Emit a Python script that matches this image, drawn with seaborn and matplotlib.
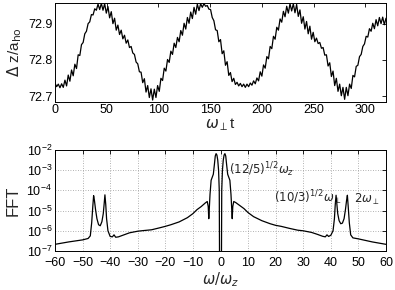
import numpy as np
import pandas as pd
import matplotlib
matplotlib.use("Agg")
import matplotlib.pyplot as plt
import seaborn as sns

# ---------------- data ----------------
# top panel: Delta z / a_ho vs omega_perp t (read from picture, sampled every 1.6)
t_max = 320.0
dz = [
 72.736, 72.726, 72.733, 72.723, 72.734, 72.724, 72.744, 72.728, 72.758, 72.741,
 72.772, 72.756, 72.788, 72.776, 72.814, 72.812, 72.842, 72.848, 72.872, 72.879,
 72.900, 72.905, 72.925, 72.924, 72.941, 72.937, 72.954, 72.939, 72.956, 72.937,
 72.955, 72.929, 72.947, 72.916, 72.933, 72.900, 72.915, 72.882, 72.896, 72.870,
 72.882, 72.858, 72.868, 72.846, 72.855, 72.834, 72.837, 72.819, 72.815, 72.794,
 72.789, 72.767, 72.766, 72.737, 72.748, 72.711, 72.729, 72.696, 72.720, 72.689,
 72.719, 72.696, 72.729, 72.713, 72.749, 72.743, 72.777, 72.769, 72.801, 72.793,
 72.824, 72.815, 72.846, 72.834, 72.862, 72.850, 72.881, 72.868, 72.901, 72.885,
 72.917, 72.901, 72.932, 72.914, 72.945, 72.926, 72.954, 72.936, 72.955, 72.945,
 72.955, 72.948, 72.950, 72.940, 72.939, 72.917, 72.908, 72.883, 72.881, 72.850,
 72.856, 72.817, 72.825, 72.785, 72.795, 72.757, 72.765, 72.740, 72.749, 72.732,
 72.738, 72.728, 72.735, 72.726, 72.733, 72.724, 72.733, 72.726, 72.736, 72.730,
 72.742, 72.734, 72.750, 72.742, 72.767, 72.755, 72.786, 72.777, 72.809, 72.803,
 72.837, 72.831, 72.865, 72.857, 72.890, 72.882, 72.913, 72.904, 72.934, 72.919,
 72.948, 72.929, 72.955, 72.935, 72.955, 72.930, 72.953, 72.920, 72.938, 72.901,
 72.919, 72.885, 72.906, 72.872, 72.893, 72.857, 72.876, 72.850, 72.860, 72.845,
 72.848, 72.832, 72.834, 72.813, 72.814, 72.783, 72.792, 72.754, 72.769, 72.729,
 72.749, 72.713, 72.733, 72.701, 72.724, 72.691, 72.724, 72.701, 72.733, 72.721,
 72.757, 72.753, 72.782, 72.785, 72.809, 72.815, 72.837, 72.844, 72.865, 72.863,
 72.886, 72.879, 72.901, 72.886, 72.911, 72.894, 72.917, 72.900, 72.918, 72.897,
 72.915,
]
t = np.linspace(0, t_max, len(dz))

omega = [
 -60, -55, -50, -48, -47.2, -46.7, -46.3, -46.0, -45.7, -45.3,
 -44.8, -44.2, -43.6, -43.0, -42.5, -42.2, -41.9, -41.6, -41.3, -40.8,
 -40, -39.2, -38.6, -38, -37, -35, -33, -30, -28, -25,
 -22, -20, -18, -15, -12, -10, -8.5, -7, -5.5, -4.8,
 -4.45, -4.25, -4.1, -3.8, -3.4, -3.0, -2.6, -2.2, -1.9, -1.6,
 -1.3, -1.0, -0.7, -0.45, -0.3, 0.0,
 0.3, 0.45, 0.7, 1.0, 1.3, 1.6, 1.9, 2.2, 2.6, 3.0,
 3.4, 3.8, 4.1, 4.25, 4.45, 4.8, 5.5, 7, 8.5, 10,
 12, 15, 18, 20, 22, 25, 28, 30, 33, 35,
 37, 38, 38.6, 39.2, 40, 40.8, 41.3, 41.6, 41.9, 42.2,
 42.5, 43.0, 43.6, 44.2, 44.8, 45.3, 45.7, 46.0, 46.3, 46.7,
 47.2, 48, 50, 55, 60,
]
fft_log10 = [
 -6.67, -6.55, -6.45, -6.38, -6.25, -5.6, -4.8, -4.26, -4.5, -4.95,
 -5.4, -5.7, -5.75, -5.55, -5.15, -4.7, -4.22, -4.7, -5.4, -6.0,
 -6.28, -6.3, -6.2, -6.32, -6.3, -6.2, -6.1, -6.02, -5.99, -5.95,
 -5.85, -5.78, -5.7, -5.56, -5.35, -5.15, -4.95, -4.8, -4.62, -4.55,
 -4.8, -5.4, -5.0, -4.2, -3.5, -3.35, -3.2, -2.7, -2.3, -2.18,
 -2.25, -2.5, -3.0, -4.0, -9.0, -9.0,
 -9.0, -4.0, -3.0, -2.5, -2.25, -2.18, -2.3, -2.7, -3.2, -3.35,
 -3.5, -4.2, -5.0, -5.4, -4.8, -4.55, -4.6, -4.75, -4.9, -5.1,
 -5.3, -5.5, -5.65, -5.73, -5.78, -5.88, -5.97, -6.0, -6.08, -6.17,
 -6.27, -6.3, -6.2, -6.28, -6.22, -6.0, -5.4, -4.7, -4.24, -4.7,
 -5.15, -5.5, -5.65, -5.62, -5.4, -4.95, -4.5, -4.24, -4.8, -5.6,
 -6.2, -6.35, -6.4, -6.55, -6.67,
]

top_xticks = [0, 50, 100, 150, 200, 250, 300]
top_yticks = [72.7, 72.8, 72.9]
bot_xticks = list(range(-60, 61, 10))
bot_yticks = [1e-7, 1e-6, 1e-5, 1e-4, 1e-3, 1e-2]

annotations = [
    (r"$(12/5)^{1/2}\omega_z$", 3.0, 10 ** -2.95),
    (r"$(10/3)^{1/2}\omega_{\perp}$", 19.5, 10 ** -4.35),
    (r"$2\omega_{\perp}$", 48.3, 10 ** -4.45),
]

# ---------------- style ----------------
sns.set_theme(style="white")
plt.rcParams["font.family"] = ["Liberation Sans", "DejaVu Sans"]
plt.rcParams["mathtext.fontset"] = "dejavusans"
plt.rcParams["xtick.direction"] = "in"
plt.rcParams["ytick.direction"] = "in"

fig = plt.figure(figsize=(3.95, 2.90), dpi=100)
ax1 = fig.add_axes([55 / 395, 1 - 101.5 / 290, 331 / 395, 98.5 / 290])
ax2 = fig.add_axes([55 / 395, 1 - 251 / 290, 331 / 395, 101 / 290])

df_top = pd.DataFrame({"t": t, "dz": dz})
sns.lineplot(data=df_top, x="t", y="dz", ax=ax1, color="black", lw=0.9,
             estimator=None, sort=False)
ax1.set_xlim(0, t_max)
ax1.set_ylim(72.685, 72.957)
ax1.set_xticks(top_xticks)
ax1.set_yticks(top_yticks)
ax1.set_yticklabels([f"{v:.1f}" for v in top_yticks])
ax1.set_xlabel(r"$\omega_{\perp}$t", fontsize=11, labelpad=0)
ax1.set_ylabel(r"$\Delta$ z/a$_{\mathrm{ho}}$", fontsize=11, labelpad=3)

df_bot = pd.DataFrame({"omega": omega, "fft": 10.0 ** np.array(fft_log10)})
sns.lineplot(data=df_bot, x="omega", y="fft", ax=ax2, color="black", lw=0.9,
             estimator=None, sort=False)
ax2.set_yscale("log")
ax2.set_xlim(-60, 60)
ax2.set_ylim(1e-7, 1e-2)
ax2.set_xticks(bot_xticks)
ax2.set_yticks(bot_yticks)
ax2.yaxis.set_minor_locator(matplotlib.ticker.NullLocator())
ax2.grid(True, which="major", linestyle=(0, (1, 2)), color="#999999", lw=0.6)
ax2.set_xlabel(r"$\omega/\omega_z$", fontsize=10.5, va="top")
ax2.xaxis.set_label_coords(0.5, -0.19)
ax2.set_ylabel("FFT", fontsize=12, labelpad=4)
for txt, x, y in annotations:
    ax2.text(x, y, txt, fontsize=8.5, va="center", ha="left")

for ax in (ax1, ax2):
    ax.tick_params(axis="both", which="both", direction="in", top=True, right=True,
                   length=3, width=0.6, labelsize=9, pad=2, colors="black")
    for s in ax.spines.values():
        s.set_color("black")
        s.set_linewidth(0.7)
ax2.tick_params(axis="x", pad=4.5)

fig.savefig("out.png", dpi=100)
